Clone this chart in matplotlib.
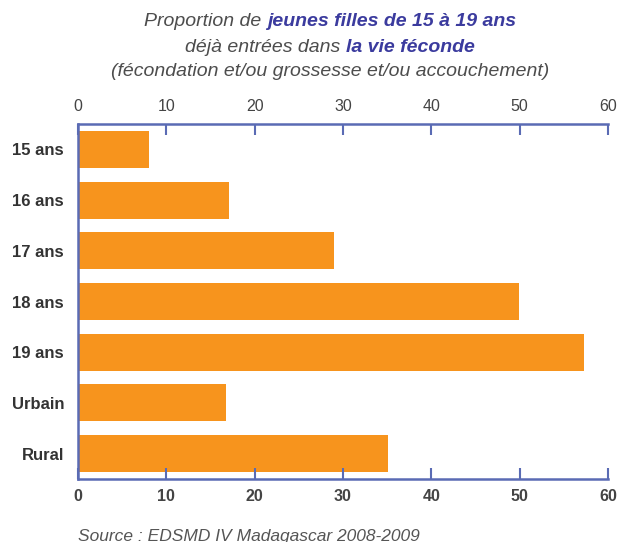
import matplotlib.pyplot as plt

categories = ["15 ans", "16 ans", "17 ans", "18 ans", "19 ans", "Urbain", "Rural"]
values = [8.0, 17.1, 29.0, 49.9, 57.3, 16.8, 35.1]
ticks = [0, 10, 20, 30, 40, 50, 60]

plt.rcParams['font.family'] = ['Liberation Sans', 'DejaVu Sans']

orange = '#F7941D'
spine_blue = '#5A6BB4'
title_blue = '#3B3B9E'
grey = '#4D4D4D'

fig = plt.figure(figsize=(6.19, 5.42), dpi=100)
ax = fig.add_axes([0.126, 0.1162, 0.856, 0.655])

ax.barh(range(len(categories)), values, height=0.73, color=orange)
ax.set_ylim(6.5, -0.5)
ax.set_xlim(0, 60)
ax.set_yticks(range(len(categories)))
ax.set_yticklabels(categories, fontsize=12, fontweight='bold', color='#333333')
ax.tick_params(axis='y', length=0, pad=10)

ax.set_xticks(ticks)
ax.tick_params(axis='x', direction='in', length=8, width=1.5, color=spine_blue,
               top=True, bottom=True, labeltop=True, labelbottom=True,
               labelsize=11.5, labelcolor='#444444', pad=6)
for lbl in ax.get_xticklabels():
    lbl.set_fontweight('bold')

ax.spines['right'].set_visible(False)
for s in ['top', 'bottom', 'left']:
    ax.spines[s].set_color(spine_blue)
    ax.spines[s].set_linewidth(1.8)

# top tick labels are not bold
fig.canvas.draw()
for t in ax.xaxis.get_major_ticks():
    t.label2.set_fontweight('normal')
ax.xaxis.set_tick_params(which='major', pad=7)

# title lines with mixed colours
title_lines = [
    [("Proportion de ", grey, 'normal'), ("jeunes filles de 15 à 19 ans", title_blue, 'bold')],
    [("déjà entrées dans ", grey, 'normal'), ("la vie féconde", title_blue, 'bold')],
    [("(fécondation et/ou grossesse et/ou accouchement)", grey, 'normal')],
]
line_y = [520, 495, 470]
renderer = fig.canvas.get_renderer()
cx = 330
for parts, y in zip(title_lines, line_y):
    texts = []
    for s, c, w in parts:
        t = fig.text(0, y / 542, s, color=c, fontweight=w, fontstyle='italic',
                     fontsize=14, va='center', ha='left')
        texts.append(t)
    widths = [t.get_window_extent(renderer).width for t in texts]
    x = cx - sum(widths) / 2
    for t, w in zip(texts, widths):
        t.set_x(x / 619)
        x += w

fig.text(78 / 619, 6 / 542, "Source : EDSMD IV Madagascar 2008-2009", fontsize=12.5,
         fontstyle='italic', color='#555555', va='center', ha='left')

fig.savefig("out.png", dpi=100)
